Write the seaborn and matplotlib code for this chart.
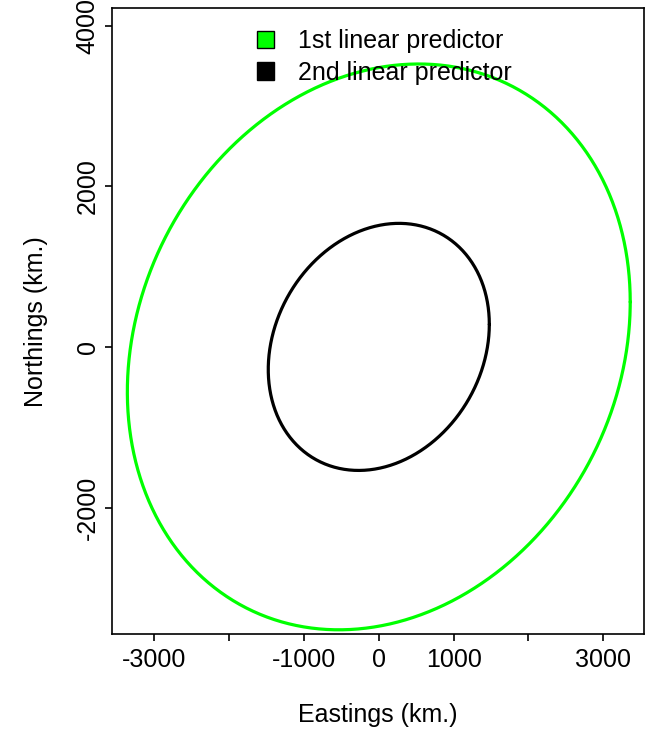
import numpy as np
import pandas as pd
import matplotlib
matplotlib.use("Agg")
import matplotlib.pyplot as plt
import seaborn as sns
from matplotlib.patches import Patch

# Ellipse parameters (km): variance-like terms
series_names = ["1st linear predictor", "2nd linear predictor"]
series_colors = ["#00FF00", "#000000"]
sxx = [3360.0 ** 2, 1477.0 ** 2]
syy = [3522.0 ** 2, 1538.0 ** 2]
sxy = [1.88e6, 0.415e6]

xticks = [-3000, -2000, -1000, 0, 1000, 2000, 3000]
xticklabels = ["-3000", "", "-1000", "0", "1000", "", "3000"]
yticks = [-2000, 0, 2000, 4000]
yticklabels = ["-2000", "0", "2000", "4000"]

sns.set_style("white")
plt.rcParams["font.family"] = ["Liberation Sans", "DejaVu Sans"]
plt.rcParams["text.color"] = "black"
plt.rcParams["axes.labelcolor"] = "black"
plt.rcParams["xtick.color"] = "black"
plt.rcParams["ytick.color"] = "black"

t = np.linspace(0, 2 * np.pi, 400)
frames = []
for name, a, b, c in zip(series_names, sxx, syy, sxy):
    l11 = np.sqrt(a)
    l21 = c / l11
    l22 = np.sqrt(b - l21 ** 2)
    u, v = np.cos(t), np.sin(t)
    frames.append(pd.DataFrame({"x": l11 * u, "y": l21 * u + l22 * v, "series": name}))
df = pd.concat(frames, ignore_index=True)

fig = plt.figure(figsize=(6.52, 7.35), dpi=100)
ax = fig.add_axes([112.3 / 652, 1 - 634.3 / 735, (644 - 112.3) / 652, (634.3 - 8) / 735])
for name, col in zip(series_names, series_colors):
    sub = df[df["series"] == name]
    sns.lineplot(data=sub, x="x", y="y", sort=False, estimator=None, color=col,
                 linewidth=2.3, ax=ax, legend=False)

ax.set_xlim(-3561, 3544)
ax.set_ylim(-3578, 4219)
ax.set_xticks(xticks)
ax.set_xticklabels(xticklabels)
ax.set_yticks(yticks)
ax.set_yticklabels(yticklabels, rotation=90, va="center")
for s in ax.spines.values():
    s.set_color("black")
    s.set_linewidth(1.2)
ax.tick_params(axis="both", direction="out", length=5, width=1.2, color="black",
               labelcolor="black", labelsize=18, bottom=True, left=True)
ax.tick_params(axis="x", pad=5)
ax.tick_params(axis="y", pad=4)
ax.set_xlabel("Eastings (km.)", fontsize=18, labelpad=22, color="black")
ax.set_ylabel("Northings (km.)", fontsize=18, labelpad=20, color="black")

handles = [Patch(facecolor=c, edgecolor="black", linewidth=1.0) for c in series_colors]
leg = ax.legend(handles, series_names, loc="upper center", bbox_to_anchor=(0.512, 1.0),
                frameon=False, fontsize=18, handlelength=0.68, handleheight=0.68,
                handletextpad=0.95, labelspacing=0.3, borderaxespad=0.45)
for txt in leg.get_texts():
    txt.set_color("black")

fig.savefig("out.png", dpi=100)
